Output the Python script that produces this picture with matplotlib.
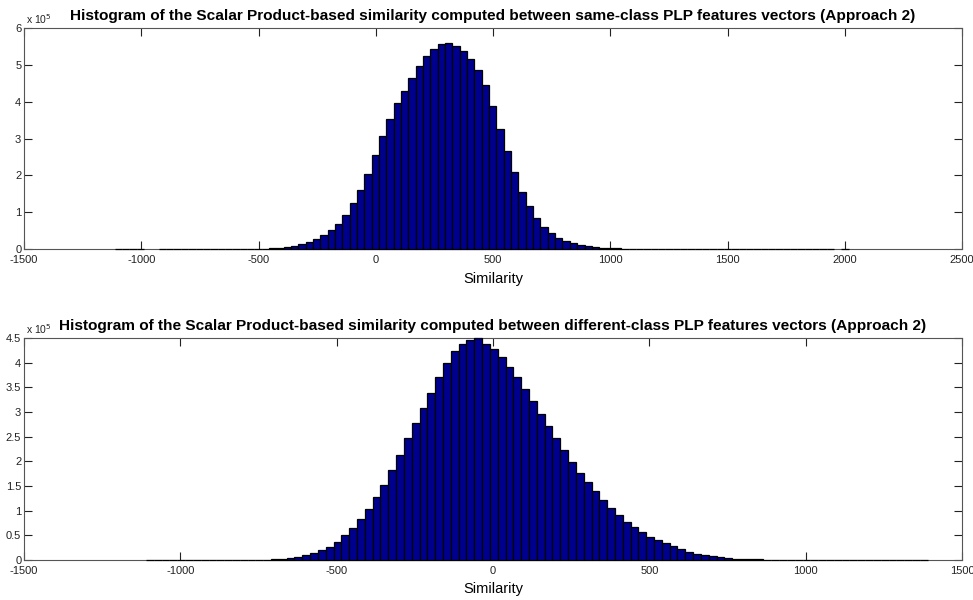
import numpy as np
import matplotlib
matplotlib.use("Agg")
import matplotlib.pyplot as plt

# ---------------- data (counts in units of 1e5) ----------------
top_min, top_width = -1113.0, 31.3
top_counts = ([0.002] * 4 + [0.0] * 2 + [0.002] * 12 + [0.004, 0.007, 0.012] +
              [0.02, 0.03, 0.05, 0.08, 0.13, 0.20, 0.27, 0.38, 0.51, 0.69,
               0.91, 1.24, 1.61, 2.04, 2.54, 3.06, 3.53, 3.97, 4.30, 4.64,
               4.96, 5.23, 5.43, 5.56, 5.59, 5.50, 5.38, 5.16, 4.87, 4.44,
               3.87, 3.26, 2.67, 2.09, 1.56, 1.16, 0.84, 0.60, 0.43, 0.30,
               0.22, 0.15, 0.11, 0.07, 0.05, 0.03, 0.02, 0.015, 0.01, 0.006,
               0.004] +
              [0.002] * 26 + [0.0] + [0.002])

bot_min, bot_width = -1110.0, 25.0
bot_counts = ([0.002] * 13 + [0.003, 0.005, 0.008] +
              [0.015, 0.03, 0.05, 0.07, 0.10, 0.15, 0.20, 0.27, 0.37, 0.51,
               0.64, 0.83, 1.03, 1.27, 1.53, 1.82, 2.13, 2.47, 2.77, 3.09,
               3.39, 3.70, 4.00, 4.23, 4.38, 4.46, 4.50, 4.38, 4.27, 4.11,
               3.92, 3.70, 3.46, 3.23, 2.96, 2.72, 2.47, 2.22, 1.99, 1.77,
               1.59, 1.40, 1.22, 1.05, 0.91, 0.78, 0.66, 0.56, 0.47, 0.41,
               0.35, 0.29, 0.22, 0.17, 0.13, 0.10, 0.08, 0.06, 0.045, 0.03,
               0.02, 0.015, 0.01, 0.006, 0.004] +
              [0.002] * 19)

top_title = ("Histogram of the Scalar Product-based similarity computed between "
             "same-class PLP features vectors (Approach 2)")
bot_title = ("Histogram of the Scalar Product-based similarity computed between "
             "different-class PLP features vectors (Approach 2)")
top_xticks = [-1500, -1000, -500, 0, 500, 1000, 1500, 2000, 2500]
top_yticks = [0, 1, 2, 3, 4, 5, 6]
bot_xticks = [-1500, -1000, -500, 0, 500, 1000, 1500]
bot_yticks = [0, 0.5, 1, 1.5, 2, 2.5, 3, 3.5, 4, 4.5]
xlabel = "Similarity"

plt.rcParams['font.family'] = ['Liberation Sans', 'DejaVu Sans']

fig = plt.figure(figsize=(9.73, 6.0), dpi=100)
fig.patch.set_facecolor('white')

ax1 = fig.add_axes([0.0247, 0.585, 0.964, 0.3683])
ax2 = fig.add_axes([0.0247, 0.0667, 0.964, 0.37])


def fmt(v):
    if float(v).is_integer():
        return str(int(v))
    return str(v)


def draw(ax, vmin, width, counts, xticks, yticks, title):
    counts = np.asarray(counts)
    centers = vmin + width * (np.arange(len(counts)) + 0.5)
    m = counts > 0
    bars = ax.bar(centers[m], counts[m], width=width, color='#00008F',
                  edgecolor='black', linewidth=0.9, zorder=3)
    for b in bars:
        b.set_clip_on(False)
    ax.set_xlim(xticks[0], xticks[-1])
    ax.set_ylim(yticks[0], yticks[-1])
    ax.set_xticks(xticks)
    ax.set_yticks(yticks)
    ax.set_xticklabels([fmt(t) for t in xticks])
    ax.set_yticklabels([fmt(t) for t in yticks])
    ax.tick_params(direction='in', length=6, width=0.8, top=True, right=True,
                   labelsize=8, colors='#222222')
    ax.tick_params(axis='x', pad=4)
    ax.tick_params(axis='y', pad=2)
    for s in ax.spines.values():
        s.set_linewidth(0.8)
        s.set_color('#555555')
    ax.set_xlabel(xlabel, fontsize=10.5, labelpad=5)
    ax.set_title(title, fontsize=11.1, fontweight='bold', pad=6)
    ax.text(0.002, 1.01, r'x 10$^5$', transform=ax.transAxes, fontsize=7.5,
            ha='left', va='bottom', color='#222222')


draw(ax1, top_min, top_width, top_counts, top_xticks, top_yticks, top_title)
draw(ax2, bot_min, bot_width, bot_counts, bot_xticks, bot_yticks, bot_title)

fig.savefig('out.png', dpi=100, facecolor='white')
